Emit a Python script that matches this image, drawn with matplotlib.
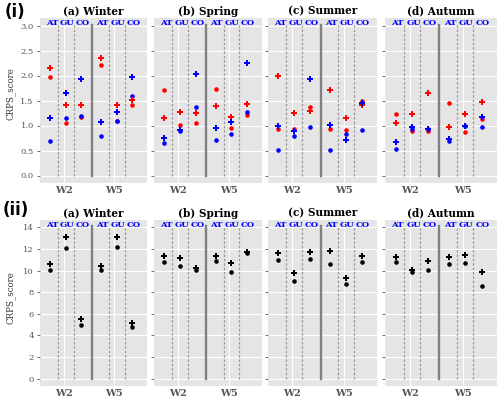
import matplotlib
matplotlib.use("Agg")
import matplotlib.pyplot as plt

seasons = ["(a) Winter", "(b) Spring", "(c) Summer", "(d) Autumn"]
groups = ["AT", "GU", "CO", "AT", "GU", "CO"]
weeks = ["W2", "W5"]

# Row (i): red / blue, plus and dot markers, per group (W2 AT,GU,CO, W5 AT,GU,CO)
winter_red_plus = [2.16, 1.42, 1.42, 2.35, 1.42, 1.52]
winter_red_dot = [1.98, 1.06, 1.17, 2.22, 1.09, 1.42]
winter_blue_plus = [1.16, 1.66, 1.93, 1.08, 1.28, 1.98]
winter_blue_dot = [0.70, 1.15, 1.20, 0.79, 1.09, 1.60]

spring_red_plus = [1.16, 1.28, 1.25, 1.40, 1.18, 1.43]
spring_red_dot = [1.72, 1.01, 1.05, 1.74, 0.96, 1.22]
spring_blue_plus = [0.75, 0.92, 2.03, 0.96, 1.08, 2.26]
spring_blue_dot = [0.65, 0.90, 1.37, 0.71, 0.83, 1.27]

summer_red_plus = [2.00, 1.26, 1.29, 1.71, 1.16, 1.41]
summer_red_dot = [0.94, 0.94, 1.37, 0.94, 0.92, 1.49]
summer_blue_plus = [1.00, 0.89, 1.93, 1.02, 0.72, 1.46]
summer_blue_dot = [0.51, 0.79, 0.98, 0.51, 0.83, 0.92]

autumn_red_plus = [1.06, 1.24, 1.65, 0.97, 1.24, 1.48]
autumn_red_dot = [1.23, 0.90, 0.90, 1.45, 0.87, 1.13]
autumn_blue_plus = [0.67, 0.98, 0.94, 0.74, 1.00, 1.17]
autumn_blue_dot = [0.54, 0.93, 0.93, 0.69, 0.99, 0.98]

# Row (ii): black plus and dot markers
winter_black_plus = [10.62, 13.11, 5.56, 10.41, 13.14, 5.10]
winter_black_dot = [10.01, 12.10, 4.97, 10.01, 12.19, 4.82]
spring_black_plus = [11.33, 11.15, 10.25, 11.30, 10.68, 11.67]
spring_black_dot = [10.81, 10.44, 10.07, 10.84, 9.82, 11.61]
summer_black_plus = [11.61, 9.73, 11.67, 11.79, 9.27, 11.33]
summer_black_dot = [10.96, 9.06, 11.05, 10.62, 8.72, 10.75]
autumn_black_plus = [11.21, 10.01, 10.90, 11.27, 11.45, 9.89]
autumn_black_dot = [10.78, 9.89, 10.04, 10.56, 10.68, 8.57]

top_yticks = [0.0, 0.5, 1.0, 1.5, 2.0, 2.5, 3.0]
bottom_yticks = [0, 2, 4, 6, 8, 10, 12, 14]

top_data = [
    (winter_red_plus, winter_red_dot, winter_blue_plus, winter_blue_dot),
    (spring_red_plus, spring_red_dot, spring_blue_plus, spring_blue_dot),
    (summer_red_plus, summer_red_dot, summer_blue_plus, summer_blue_dot),
    (autumn_red_plus, autumn_red_dot, autumn_blue_plus, autumn_blue_dot),
]
bottom_data = [
    (winter_black_plus, winter_black_dot),
    (spring_black_plus, spring_black_dot),
    (summer_black_plus, summer_black_dot),
    (autumn_black_plus, autumn_black_dot),
]

# layout
xpos = [0, 1, 2, 3.26, 4.26, 5.26]
dash_x = [0.5, 1.5, 3.76, 4.76]
thick_x = 2.66
week_x = [0.85, 4.1]
XLIM = (-0.66, 6.2)

W, H = 500, 399
def rect(l, t, r, b):
    return [l / W, 1 - b / H, (r - l) / W, (b - t) / H]

cols = [(40, 147), (154, 262), (268, 377), (385, 497)]
rows = [(18, 183), (220, 386)]

SERIF = "DejaVu Serif"
fig = plt.figure(figsize=(W / 100, H / 100), dpi=100)

def style(ax, ylim, yticks, ylab_fmt, show_labels):
    ax.set_facecolor("#E5E5E5")
    for s in ax.spines.values():
        s.set_visible(False)
    ax.set_xlim(*XLIM)
    ax.set_ylim(*ylim)
    ax.set_yticks(yticks)
    ax.set_xticks(week_x)
    ax.set_xticklabels(weeks, family=SERIF, fontweight="bold", fontsize=7, color="#555555")
    if show_labels:
        ax.set_yticklabels([ylab_fmt.format(v) for v in yticks], family=SERIF, fontsize=6, color="#555555")
    else:
        ax.set_yticklabels([])
    ax.tick_params(axis="x", length=0, pad=2)
    ax.tick_params(axis="y", length=2.5, width=0.6, color="#555555", pad=2)
    ax.grid(True, color="white", linewidth=0.8)
    ax.set_axisbelow(True)

def structure(ax, ytop):
    for x in dash_x:
        ax.plot([x, x], [0, ytop], color="#9A9A9A", linestyle=(0, (2, 1.5)), linewidth=0.9, zorder=2)
    ax.plot([thick_x, thick_x], [0, ytop], color="#808080", linewidth=1.7, zorder=2)
    for i, g in enumerate(groups):
        ax.text(xpos[i] + (0.1 if i < 3 else 0.06), 0.972, g, transform=ax.get_xaxis_transform(),
                ha="center", va="center", color="blue", fontweight="bold",
                family=SERIF, fontsize=6.1)

for j in range(4):
    # top row
    ax = fig.add_axes(rect(cols[j][0], rows[0][0], cols[j][1], rows[0][1]))
    style(ax, (-0.15, 3.15), top_yticks, "{:.1f}", j == 0)
    structure(ax, 3.02)
    rp, rd, bp, bd = top_data[j]
    ax.plot(xpos, rd, "o", color="red", markersize=3.3, markeredgewidth=0, zorder=3)
    ax.plot(xpos, bd, "o", color="blue", markersize=3.3, markeredgewidth=0, zorder=3)
    ax.plot(xpos, rp, "P", color="red", markersize=5, markeredgewidth=0, zorder=3)
    ax.plot(xpos, bp, "P", color="blue", markersize=5, markeredgewidth=0, zorder=3)
    ax.set_title(seasons[j], family=SERIF, fontweight="bold", fontsize=7.6, pad=2.5)
    if j == 0:
        ax.set_ylabel("CRPS_score", family=SERIF, fontsize=6.2, color="#333333")
        ax.yaxis.set_label_coords(-0.23, 0.545)

    # bottom row
    ax2 = fig.add_axes(rect(cols[j][0], rows[1][0], cols[j][1], rows[1][1]))
    style(ax2, (-0.68, 14.67), bottom_yticks, "{:d}", j == 0)
    structure(ax2, 14.1)
    kp, kd = bottom_data[j]
    ax2.plot(xpos, kd, "o", color="black", markersize=3.3, markeredgewidth=0, zorder=3)
    ax2.plot(xpos, kp, "P", color="black", markersize=5, markeredgewidth=0, zorder=3)
    ax2.set_title(seasons[j], family=SERIF, fontweight="bold", fontsize=7.6, pad=2.5)
    if j == 0:
        ax2.set_ylabel("CRPS_score", family=SERIF, fontsize=6.2, color="#333333")
        ax2.yaxis.set_label_coords(-0.23, 0.535)

fig.text(5 / W, 1 - 12 / H, "(i)", fontsize=12, fontweight="bold", family="DejaVu Sans", va="center", ha="left")
fig.text(3 / W, 1 - 210 / H, "(ii)", fontsize=12, fontweight="bold", family="DejaVu Sans", va="center", ha="left")

fig.savefig("out.png", dpi=100)
